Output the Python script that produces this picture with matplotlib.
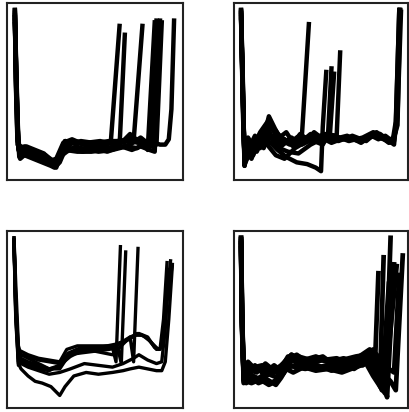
import matplotlib
matplotlib.use("Agg")
import matplotlib.pyplot as plt

# ---- top left panel: traces (x, y in axis percent) ----
tl_x = [
    [4.5, 5, 6, 7, 10, 15, 20, 25, 27, 30, 33, 40, 48, 55, 59, 64],
    [4.5, 5, 6, 7, 10, 15, 20, 25, 27, 30, 33, 40, 48, 56, 62, 64, 67],
    [4.5, 5.5, 6.5, 8, 12, 18, 22, 26, 29, 33, 40, 50, 60, 66, 70, 72, 77],
    [4.5, 5.5, 6.5, 8, 12, 17, 22, 26, 29, 33, 38, 45, 52, 60, 68, 74, 78, 80, 84],
    [4.5, 5, 6, 8, 11, 16, 21, 25, 28, 32, 37, 44, 51, 58, 66, 72, 77, 82, 85],
    [4.5, 5.5, 6.5, 7.5, 11, 16, 20, 24, 28, 31, 36, 43, 50, 57, 65, 71, 76, 81, 84, 87],
    [4.5, 5, 6, 7, 10, 14, 19, 24, 27, 31, 35, 42, 49, 56, 63, 70, 75, 80, 85, 88],
    [4.5, 5.5, 6.5, 8, 12, 17, 22, 26, 29, 32, 37, 45, 53, 61, 69, 75, 80, 84, 87, 90, 92, 93.5, 95],
    [4.5, 5, 6, 8, 11, 14, 18, 23, 27, 30, 34, 39, 46, 54, 62, 70, 76, 81, 84, 86.5],
]
tl_y = [
    [96, 70, 30, 18, 19, 16, 14, 11, 10, 14, 22, 21, 19, 21, 21, 87],
    [90, 65, 28, 13, 14, 12, 10, 8, 7, 10, 17, 16, 16, 17, 18, 19, 82],
    [94, 55, 20, 18, 17, 15, 13, 10, 13, 22, 21, 20, 21, 22, 26, 22, 87],
    [92, 50, 18, 14, 16, 13, 11, 8, 11, 19, 17, 18, 16, 17, 19, 18, 21, 17, 89],
    [95, 62, 22, 16, 19, 17, 15, 11, 12, 21, 23, 20, 21, 22, 22, 24, 21, 19, 90],
    [88, 52, 19, 12, 15, 14, 12, 9, 7, 15, 18, 16, 18, 16, 19, 17, 19, 17, 16, 90],
    [93, 58, 24, 17, 16, 14, 12, 9, 10, 16, 20, 22, 21, 21, 22, 23, 21, 19, 20, 89],
    [96, 48, 17, 15, 18, 16, 14, 11, 12, 20, 22, 21, 22, 20, 22, 21, 20, 21, 20, 20, 23, 40, 90],
    [92, 56, 20, 19, 15, 17, 13, 12, 8, 13, 16, 19, 17, 19, 18, 20, 24, 20, 18, 89],
]

# ---- top right panel ----
tr_x = [
    [4, 5, 6, 8, 11, 14, 17, 21, 24, 28, 32, 36, 39, 43],
    [4, 5, 6, 9, 13, 17, 21, 25, 30, 36, 42, 47, 50, 51, 53],
    [4, 5, 6, 8, 12, 16, 20, 24, 29, 34, 40, 46, 51, 54, 56],
    [4, 5, 6, 9, 12, 15, 19, 23, 27, 32, 38, 44, 50, 55, 57.5],
    [4, 5, 6, 8, 11, 15, 20, 24, 28, 33, 39, 45, 52, 59, 61],
    [4, 5, 6, 8, 12, 16, 21, 26, 31, 37, 44, 52, 60, 68, 76, 82, 85, 89, 92, 93, 95],
    [4, 5, 6, 9, 13, 17, 20, 25, 30, 36, 43, 50, 58, 66, 74, 80, 84, 88, 92, 93.5, 95.5],
    [4, 5, 6, 8, 11, 15, 19, 24, 29, 35, 42, 49, 57, 65, 73, 79, 83, 87, 91, 93, 94, 96],
    [4, 5, 6, 9, 12, 16, 20, 23, 27, 32, 38, 46, 54, 62, 70, 78, 83, 88, 92, 94, 95.5],
    [4, 5, 6, 7, 10, 13, 16, 19, 22, 26, 30, 34, 38, 42, 46, 50, 56, 64, 72, 80, 86, 91, 93, 95],
]
tr_y = [
    [96, 55, 8, 20, 14, 22, 18, 30, 28, 22, 20, 24, 25, 88],
    [94, 50, 10, 18, 24, 20, 21, 17, 13, 10, 9, 7, 5, 30, 61],
    [92, 45, 12, 22, 17, 25, 28, 20, 23, 19, 24, 22, 20, 25, 63],
    [95, 52, 9, 15, 21, 18, 26, 24, 19, 23, 21, 26, 22, 24, 60],
    [90, 48, 14, 24, 19, 27, 34, 25, 21, 24, 20, 23, 26, 25, 72],
    [96, 58, 8, 17, 22, 19, 24, 18, 16, 15, 20, 24, 22, 25, 22, 27, 24, 21, 22, 30, 96],
    [93, 50, 11, 21, 16, 24, 36, 26, 22, 20, 22, 23, 25, 22, 24, 27, 26, 23, 20, 35, 96],
    [95, 46, 13, 14, 20, 22, 20, 14, 12, 18, 22, 24, 23, 25, 21, 25, 23, 25, 22, 28, 36, 95],
    [91, 54, 10, 19, 25, 20, 30, 28, 24, 21, 25, 22, 25, 23, 23, 24, 26, 22, 24, 31, 96],
    [94, 40, 9, 16, 12, 20, 27, 32, 29, 24, 27, 21, 26, 23, 27, 24, 21, 24, 22, 25, 23, 21, 33, 96],
]

# ---- bottom left panel ----
bl_x = [
    [4, 5, 6.5, 8, 12, 18, 24, 30, 35, 40, 45, 50, 55, 60, 62, 64.5],
    [4, 5, 6.5, 8, 12, 18, 24, 30, 34, 40, 50, 58, 63, 65, 67.5],
    [4, 5, 6.5, 8, 12, 18, 24, 30, 35, 42, 50, 60, 66, 70, 72, 74.5],
    [4, 5, 6.5, 8, 12, 18, 24, 30, 34, 40, 50, 60, 65, 70, 75, 80, 84, 87, 89, 91],
    [4, 5, 6.5, 8, 12, 18, 24, 30, 35, 42, 52, 62, 68, 73, 77, 81, 85, 88, 90, 93],
    [4, 5, 6.5, 8, 12, 18, 24, 30, 36, 44, 54, 62, 68, 74, 79, 83, 86, 89, 91, 94],
    [4, 5, 6.5, 8, 12, 16, 20, 25, 28, 30, 33, 38, 45, 52, 60, 66, 70, 75, 80, 85, 88, 90, 92, 94],
    [4, 5, 6.5, 8, 12, 18, 24, 30, 36, 44, 52, 60, 66, 72, 75, 80, 85, 88, 90, 92],
]
bl_y = [
    [96, 70, 35, 30, 28, 25, 22, 23, 30, 33, 33, 33, 33, 34, 26, 91],
    [94, 60, 32, 28, 26, 24, 22, 22, 28, 32, 32, 33, 34, 25, 88],
    [95, 55, 30, 26, 24, 22, 21, 24, 30, 31, 32, 30, 36, 40, 26, 90],
    [96, 60, 30, 32, 30, 28, 27, 26, 33, 35, 35, 35, 37, 40, 42, 40, 34, 33, 50, 82],
    [93, 58, 28, 30, 29, 27, 26, 25, 31, 34, 34, 36, 38, 41, 41, 38, 33, 34, 55, 83],
    [92, 52, 26, 27, 25, 23, 22, 24, 29, 33, 33, 35, 38, 42, 40, 36, 33, 35, 60, 81],
    [95, 55, 25, 22, 18, 15, 14, 12, 9, 7, 12, 18, 20, 19, 20, 21, 22, 23, 22, 21, 21, 26, 50, 80],
    [94, 50, 24, 25, 23, 21, 19, 20, 22, 25, 24, 23, 25, 28, 30, 27, 25, 26, 45, 78],
]

# ---- bottom right panel ----
br_x = [
    [4, 4.5, 5.5, 8, 12, 17, 22, 26, 28, 31, 36, 42, 50, 58, 66, 72, 78, 80, 81, 83],
    [4, 4.5, 5.5, 8, 12, 17, 22, 26, 28, 31, 36, 43, 51, 59, 67, 73, 78, 80, 82, 84, 86],
    [4, 4.5, 5.5, 8, 11, 16, 21, 25, 28, 31, 37, 44, 52, 60, 68, 74, 79, 82, 84, 87, 90],
    [4, 4.5, 5.5, 7, 11, 15, 20, 25, 29, 32, 38, 45, 53, 61, 69, 75, 79, 83, 86, 88, 92],
    [4, 4.5, 5.5, 8, 12, 16, 21, 26, 29, 32, 37, 44, 51, 58, 65, 72, 78, 83, 87, 90, 93, 97],
    [4, 4.5, 5.5, 8, 12, 18, 23, 27, 29, 33, 39, 46, 54, 62, 70, 76, 80, 84, 88, 91],
    [4, 4.5, 5.5, 7, 10, 15, 20, 24, 28, 31, 35, 41, 48, 56, 64, 71, 77, 81, 85, 89],
    [4, 4.5, 5.5, 8, 13, 18, 23, 27, 30, 33, 40, 47, 55, 63, 71, 77, 81, 86, 89, 92, 95],
    [4, 4.5, 5.5, 7, 10, 14, 19, 24, 27, 30, 34, 40, 47, 54, 62, 70, 76, 80, 84, 87, 93.5],
]
br_y = [
    [96, 60, 16, 24, 22, 23, 21, 22, 24, 29, 28, 27, 28, 26, 27, 28, 30, 31, 24, 76],
    [94, 55, 18, 20, 24, 19, 23, 18, 25, 27, 30, 25, 27, 28, 25, 29, 31, 27, 20, 18, 85],
    [95, 50, 14, 17, 15, 18, 14, 16, 19, 23, 24, 25, 22, 23, 25, 24, 30, 22, 12, 8, 96],
    [92, 52, 17, 21, 18, 16, 19, 17, 21, 28, 24, 22, 24, 25, 22, 26, 27, 20, 15, 6, 81],
    [96, 58, 15, 19, 23, 24, 19, 22, 24, 26, 29, 27, 29, 24, 26, 29, 33, 24, 18, 15, 10, 86],
    [93, 48, 19, 26, 22, 20, 24, 21, 26, 30, 25, 28, 26, 27, 29, 30, 33, 25, 20, 80],
    [95, 54, 16, 15, 14, 16, 13, 15, 19, 25, 23, 22, 24, 21, 23, 24, 28, 20, 10, 70],
    [90, 46, 18, 22, 20, 25, 21, 24, 26, 30, 27, 29, 26, 28, 25, 29, 31, 26, 22, 20, 75],
    [93, 50, 20, 14, 17, 14, 16, 13, 17, 22, 20, 23, 21, 22, 20, 23, 25, 18, 12, 14, 80],
]

panels = [
    (tl_x, tl_y, [0.017, 0.563, 0.429, 0.43], 3.2),
    (tr_x, tr_y, [0.571, 0.563, 0.424, 0.43], 3.2),
    (bl_x, bl_y, [0.017, 0.010, 0.429, 0.43], 2.4),
    (br_x, br_y, [0.571, 0.010, 0.424, 0.43], 3.4),
]

fig = plt.figure(figsize=(4.1, 4.12), dpi=100)
for xs, ys, rect, lw in panels:
    ax = fig.add_axes(rect)
    for x, y in zip(xs, ys):
        ax.plot(x, y, color="black", lw=lw, solid_joinstyle="round")
    ax.set_xlim(0, 100)
    ax.set_ylim(0, 100)
    ax.set_xticks([])
    ax.set_yticks([])
    for sp in ax.spines.values():
        sp.set_linewidth(1.5)
        sp.set_color("#222222")

fig.savefig("out.png", dpi=100)
